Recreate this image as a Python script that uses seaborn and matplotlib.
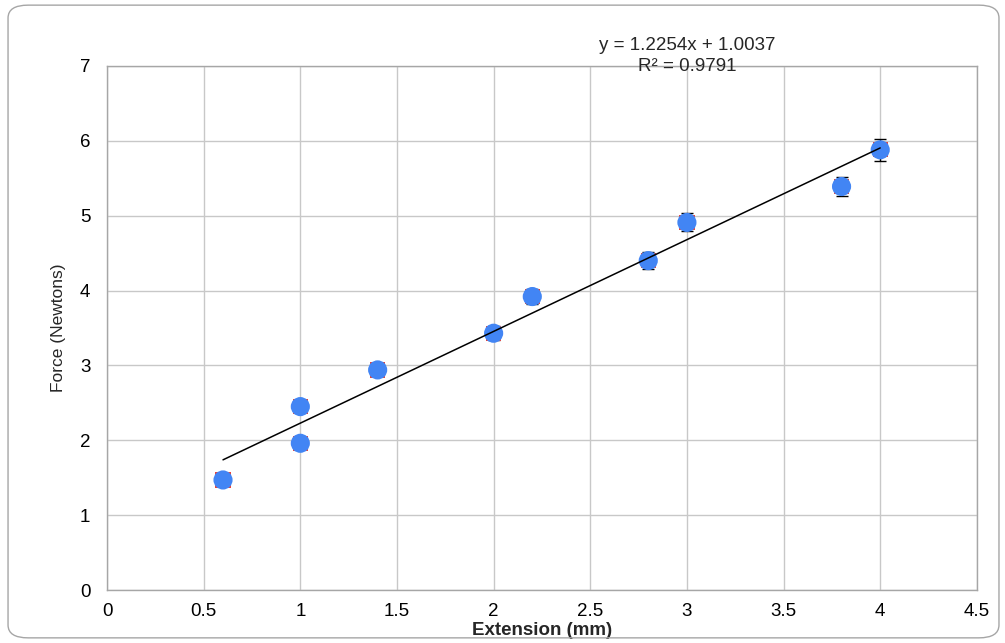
import matplotlib
matplotlib.use("Agg")
import matplotlib.pyplot as plt
import numpy as np
import pandas as pd
import seaborn as sns
from matplotlib.patches import FancyBboxPatch

# data
extension = [0.6, 1.0, 1.0, 1.4, 2.0, 2.2, 2.8, 3.0, 3.8, 4.0]
force = [1.47, 2.45, 1.96, 2.94, 3.43, 3.92, 4.40, 4.91, 5.39, 5.88]
force_err = [0.04, 0.06, 0.05, 0.07, 0.09, 0.10, 0.11, 0.12, 0.13, 0.15]
slope = 1.2254
intercept = 1.0037
r_squared = 0.9791

df = pd.DataFrame({"extension": extension, "force": force, "err": force_err})

sns.set_theme(style="whitegrid")
plt.rcParams["font.family"] = ["Liberation Sans", "DejaVu Sans"]

fig = plt.figure(figsize=(10.05, 6.43), dpi=100)
ax = fig.add_axes([0.1065, 0.0824, 0.8655, 0.815])

# rounded outer border
fig.patches.append(FancyBboxPatch((0.008, 0.008), 0.986, 0.984,
                                  boxstyle="round,pad=0,rounding_size=0.02",
                                  transform=fig.transFigure, facecolor="none",
                                  edgecolor="#a6a6a6", linewidth=1.0))

ax.errorbar(df["extension"], df["force"], yerr=df["err"], fmt="none",
            ecolor="black", elinewidth=1, capsize=4, zorder=2)
sns.scatterplot(data=df, x="extension", y="force", marker="s", s=120,
                color="#e8453c", edgecolor="none", ax=ax, zorder=3)
sns.scatterplot(data=df, x="extension", y="force", marker="o", s=190,
                color="#4285f4", edgecolor="none", ax=ax, zorder=4)

trend = pd.DataFrame({"x": [min(extension), max(extension)]})
trend["y"] = slope * trend["x"] + intercept
sns.lineplot(data=trend, x="x", y="y", color="black", linewidth=1.1, ax=ax, zorder=5)

ax.set_xlim(0, 4.5)
ax.set_ylim(0, 7)
ax.set_xticks(np.arange(0, 4.51, 0.5))
ax.set_xticklabels(["0", "0.5", "1", "1.5", "2", "2.5", "3", "3.5", "4", "4.5"])
ax.set_yticks(range(0, 8))
ax.tick_params(axis="both", labelsize=13.5, colors="black", length=0)
ax.tick_params(axis="x", pad=9)
ax.tick_params(axis="y", pad=12)
ax.grid(True, color="#c8c8c8", linewidth=1.0)
for s in ax.spines.values():
    s.set_color("#a6a6a6")
    s.set_linewidth(1.0)

ax.set_xlabel("Extension (mm)", fontsize=13.5, fontweight="bold", labelpad=2)
ax.set_ylabel("Force (Newtons)", fontsize=12.5, labelpad=10)

ax.text(3.0, 7.27, f"y = {slope}x + {intercept}", ha="center", va="center", fontsize=13.5)
ax.text(3.0, 6.99, f"R² = {r_squared}", ha="center", va="center", fontsize=13.5)

fig.savefig("out.png", dpi=100)
